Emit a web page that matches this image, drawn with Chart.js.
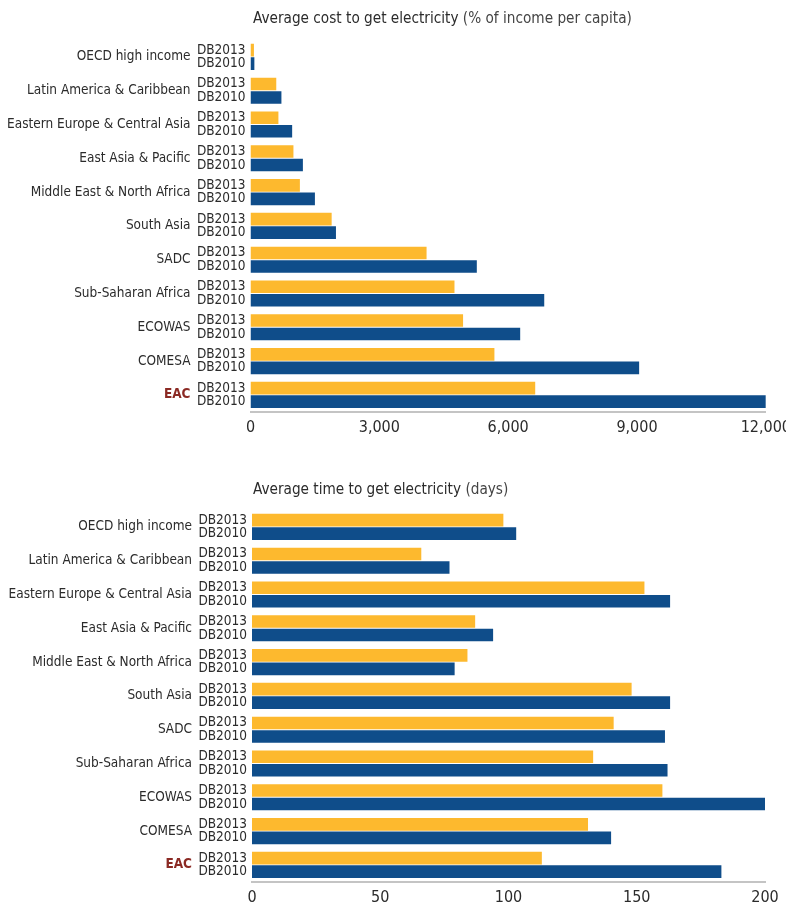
<!DOCTYPE html>
<html>
<head>
<meta charset="utf-8">
<script src="https://cdn.jsdelivr.net/npm/chart.js@4.4.1/dist/chart.umd.min.js"></script>
<style>
  html, body { margin: 0; background: #fff; overflow: hidden; width: 786px; height: 907px; }
  body { position: relative; font-family: 'Liberation Sans Narrow', 'DejaVu Sans Condensed', sans-serif; }
  .panel { position: absolute; left: 0; height: 444px; }
  .title { position: absolute; left: 253px; font-size: 15.2px; line-height: 20px; color: #2b2b2b; white-space: nowrap; }
  .title span { color: #444; }
</style>
</head>
<body>
<div class="panel" style="top:0; width:797px">
  <div class="title" style="top:8px">Average cost to get electricity <span>(% of income per capita)</span></div>
  <canvas id="costChart"></canvas>
</div>
<div class="panel" style="top:470px; width:786px">
  <div class="title" style="top:9px">Average time to get electricity <span>(days)</span></div>
  <canvas id="timeChart"></canvas>
</div>
<script>
const regions = [
  "OECD high income", "Latin America & Caribbean", "Eastern Europe & Central Asia",
  "East Asia & Pacific", "Middle East & North Africa", "South Asia", "SADC",
  "Sub-Saharan Africa", "ECOWAS", "COMESA", "EAC"
];
const years = ["DB2013", "DB2010"];

// cost, % of income per capita
const cost2013 = [80, 600, 650, 1000, 1150, 1890, 4100, 4750, 4950, 5680, 6630];
const cost2010 = [90, 720, 970, 1220, 1500, 1990, 5270, 6840, 6280, 9050, 12000];

// time, days
const time2013 = [98, 66, 153, 87, 84, 148, 141, 133, 160, 131, 113];
const time2010 = [103, 77, 163, 94, 79, 163, 161, 162, 200, 140, 183];

const costTicks = [0, 3000, 6000, 9000, 12000];
const timeTicks = [0, 50, 100, 150, 200];

const YELLOW = "#fdb92e";
const BLUE = "#0f4d8a";
const TEXT = "#2b2b2b";
const EAC_RED = "#8b2a24";
const FONT = "'Liberation Sans Narrow', 'DejaVu Sans Condensed', sans-serif";

function makeChart(id, v2013, v2010, ticks, left, right) {
  return new Chart(document.getElementById(id), {
    type: "bar",
    data: {
      labels: regions,
      datasets: [
        { label: years[0], data: v2013, backgroundColor: YELLOW },
        { label: years[1], data: v2010, backgroundColor: BLUE }
      ]
    },
    options: {
      indexAxis: "y",
      responsive: true,
      maintainAspectRatio: false,
      animation: false,
      categoryPercentage: 0.8,
      barPercentage: 0.93,
      layout: { padding: { top: 40, right: right, bottom: 1, left: 0 } },
      plugins: { legend: { display: false }, tooltip: { enabled: false } },
      scales: {
        x: {
          min: ticks[0],
          max: ticks[ticks.length - 1],
          afterBuildTicks: s => { s.ticks = ticks.map(v => ({ value: v })); },
          grid: { display: false, drawTicks: false },
          border: { color: "#c4c4c4", width: 2 },
          ticks: {
            padding: 6,
            color: TEXT,
            font: { family: FONT, size: 16 },
            callback: v => v.toLocaleString("en-US")
          }
        },
        // DB2013 / DB2010 next to the bars
        y: {
          weight: 0,
          grid: { display: false, drawTicks: false },
          border: { display: false },
          afterFit: s => { s.width = 54; },
          ticks: {
            padding: 5,
            color: TEXT,
            font: { family: FONT, size: 13.5, lineHeight: 1.0 },
            callback: () => years
          }
        },
        // region names
        yName: {
          type: "category",
          position: "left",
          labels: regions,
          weight: 1,
          grid: { display: false, drawTicks: false },
          border: { display: false },
          afterFit: s => { s.width = left - 54; },
          ticks: {
            padding: 6,
            color: c => c.index === regions.length - 1 ? EAC_RED : TEXT,
            font: c => ({ family: FONT, size: 13.5, weight: c.index === regions.length - 1 ? "bold" : "normal" })
          }
        }
      }
    }
  });
}

makeChart("costChart", cost2013, cost2010, costTicks, 250.5, 20);
makeChart("timeChart", time2013, time2010, timeTicks, 252, 21);
</script>
</body>
</html>
